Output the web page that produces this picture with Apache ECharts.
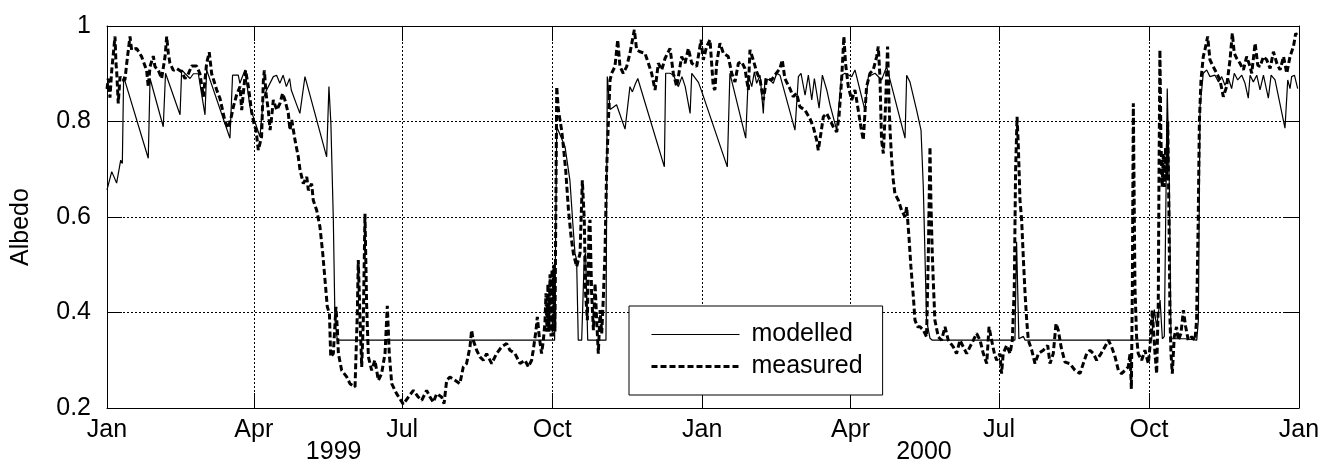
<!DOCTYPE html>
<html>
<head>
<meta charset="utf-8">
<script src="https://cdn.jsdelivr.net/npm/echarts@6/dist/echarts.min.js"></script>
<style>html,body{margin:0;padding:0;background:#fff}#c{width:1325px;height:468px}</style>
</head>
<body>
<div id="c"></div>
<script>
// ---- data (day index from 1 Jan 1999, albedo) ----
const startYear = 1999;
const endYear = 2001;
const monthNames = ['Jan', 'Feb', 'Mar', 'Apr', 'May', 'Jun', 'Jul', 'Aug', 'Sep', 'Oct', 'Nov', 'Dec'];
const quarterMonths = [1, 4, 7, 10];
const yAxisTicks = [0.2, 0.4, 0.6, 0.8, 1];
const yearLabels = ['1999', '2000'];
const yearLabelDays = [139, 501];

const modelled = [
[0,0.657],[2.9,0.695],[5.9,0.671],[8.4,0.719],[9.4,0.712],[10.2,0.894],[25.3,0.723],[26.4,0.89],
[34.5,0.789],[35.9,0.901],[44.8,0.814],[45.8,0.908],[48,0.9],[50.9,0.89],[53,0.9],[56,0.9],
[60.1,0.814],[61.1,0.908],[75.4,0.765],[77,0.897],[80.5,0.897],[81.5,0.88],[84.6,0.908],[87.7,0.83],
[93.8,0.768],[95.9,0.849],[97.9,0.866],[102,0.894],[104,0.897],[106,0.88],[108,0.897],[110,0.873],
[112,0.89],[113,0.866],[116,0.838],[118.3,0.817],[121.4,0.894],[134.7,0.726],[136.1,0.873],[137.3,0.796],
[138.8,0.594],[139.8,0.384],[141.3,0.342],[274.5,0.342],[275.8,0.789],[280.9,0.747],[283.9,0.676],
[285.8,0.58],[287,0.524],[288,0.51],[289,0.342],[291.1,0.342],[292.7,0.517],[293.5,0.524],[294.8,0.342],
[306,0.342],[306.8,0.894],[308.5,0.825],[310.5,0.83],[312.5,0.835],[317.7,0.784],[320.7,0.873],
[322.2,0.862],[323.8,0.877],[325.5,0.89],[341.8,0.705],[342.6,0.901],[345.3,0.901],[347.4,0.897],
[350.4,0.873],[352.6,0.894],[354.6,0.873],[357.6,0.817],[358.6,0.901],[362.7,0.882],[364.8,0.862],
[380.4,0.705],[382,0.901],[391.7,0.765],[393.3,0.897],[395.4,0.873],[397,0.904],[398.4,0.88],
[400.5,0.897],[402.5,0.817],[403.5,0.89],[406.6,0.887],[408.6,0.88],[410.7,0.901],[412.7,0.897],
[421.9,0.782],[424,0.894],[425.6,0.901],[428.1,0.855],[430.1,0.897],[432.2,0.845],[433.8,0.89],
[436.7,0.828],[438.7,0.897],[441.4,0.866],[443.4,0.835],[447.5,0.782],[450.5,0.897],[452.6,0.901],
[456.7,0.894],[458.7,0.908],[464.8,0.824],[466.9,0.894],[471,0.901],[475,0.887],[478.1,0.915],
[489.4,0.765],[490.4,0.897],[492.4,0.883],[496.5,0.824],[499.2,0.782],[500.6,0.663],[501.6,0.524],
[502.6,0.384],[504.7,0.346],[506.1,0.342],[556.8,0.342],[557.8,0.548],[559.2,0.345],[562,0.35],
[563,0.342],[640.6,0.342],[642.3,0.406],[643.7,0.37],[645.8,0.426],[647.2,0.345],[648.4,0.35],
[650.2,0.869],[651.5,0.663],[652.5,0.345],[661.1,0.345],[668.3,0.342],[669.3,0.384],[670.3,0.831],
[672.3,0.901],[674.4,0.908],[676.4,0.894],[679.5,0.897],[681.6,0.883],[683.6,0.894],[685.6,0.876],
[687.7,0.89],[689.7,0.869],[691.3,0.901],[693.4,0.887],[695.9,0.897],[697.9,0.88],[699.9,0.849],
[701,0.897],[703,0.883],[705.1,0.897],[707.1,0.866],[709.2,0.897],[712.2,0.849],[713.9,0.897],
[716.3,0.887],[722.4,0.786],[724.1,0.887],[725.5,0.869],[726.5,0.894],[728.2,0.897],[730.2,0.869]
];

const measured = [
[0,0.868],[0.8,0.89],[1.8,0.85],[2.9,0.907],[4.9,0.978],[5.5,0.922],[5.9,0.907],[6.9,0.838],[8,0.894],
[9,0.887],[11,0.887],[12.1,0.922],[14.1,0.978],[15.1,0.95],[16.1,0.953],[18.2,0.953],[21.2,0.936],
[24.3,0.907],[25.3,0.873],[26.4,0.915],[28.4,0.937],[29.4,0.915],[31.5,0.907],[33.5,0.89],[35.6,0.936],
[36.6,0.978],[37.6,0.943],[38.6,0.922],[40.7,0.907],[42.7,0.911],[45.8,0.904],[47.8,0.89],[49.9,0.9],
[51.9,0.916],[55,0.916],[57,0.9],[59.1,0.852],[61.1,0.922],[62.7,0.945],[64.2,0.9],[67.3,0.866],
[69.3,0.848],[72.4,0.8],[74.4,0.786],[76.5,0.814],[77.5,0.831],[79.5,0.856],[81.6,0.873],[82.6,0.824],
[83.6,0.859],[85,0.907],[86.7,0.873],[88.7,0.82],[90.1,0.796],[91.4,0.782],[92.8,0.74],[94.8,0.768],
[95.9,0.887],[96.5,0.907],[97.5,0.859],[98.9,0.824],[100,0.782],[101,0.81],[102,0.845],[104.1,0.824],
[106.1,0.838],[107.7,0.859],[109.1,0.845],[111.2,0.817],[112.2,0.782],[113.3,0.803],[115.3,0.761],
[117.3,0.726],[118.4,0.698],[120.4,0.67],[122.5,0.684],[123.5,0.656],[125.5,0.67],[126.5,0.635],
[128.6,0.614],[130.6,0.579],[132.3,0.524],[133.7,0.468],[135.1,0.412],[136.4,0.398],[137.2,0.307],
[138.8,0.314],[140.4,0.412],[141.3,0.363],[141.9,0.314],[143.9,0.279],[147,0.265],[149,0.251],
[152.1,0.244],[153.5,0.398],[154.1,0.51],[155.2,0.384],[156.2,0.286],[157.2,0.384],[158.2,0.607],
[159.2,0.419],[160.3,0.307],[162.3,0.279],[164.3,0.3],[166.4,0.258],[168.4,0.272],[170.5,0.314],
[171.9,0.414],[173.1,0.314],[174.6,0.251],[177.6,0.23],[181.7,0.208],[182.7,0.209],[184.8,0.223],
[187.9,0.237],[190.9,0.223],[193,0.216],[196,0.237],[198.1,0.223],[200.1,0.212],[202.2,0.23],
[205.2,0.223],[206.7,0.209],[208.3,0.258],[210.3,0.265],[213.4,0.258],[216.4,0.251],[218.5,0.286],
[220.5,0.293],[222.6,0.328],[223.6,0.363],[224.6,0.342],[226.7,0.321],[228.7,0.307],[230.8,0.3],
[232.8,0.314],[235.9,0.293],[238.9,0.314],[242,0.328],[245.1,0.335],[247.1,0.321],[250.2,0.314],
[253.3,0.293],[256.3,0.3],[258.4,0.286],[260.4,0.3],[261.4,0.321],[263.1,0.363],[263.9,0.391],
[265.1,0.349],[266.5,0.314],[267.6,0.342],[268.6,0.38],[269.2,0.44],[269.8,0.36],[270.4,0.46],
[271,0.36],[271.7,0.48],[272.3,0.35],[272.9,0.49],[273.5,0.35],[274.1,0.5],[274.7,0.36],[275.8,0.873],
[276.8,0.824],[278.8,0.782],[279.9,0.747],[281.3,0.698],[283,0.614],[284.6,0.559],[286,0.524],
[288,0.496],[290.1,0.524],[291.5,0.677],[292.7,0.594],[293.5,0.44],[294.6,0.384],[295.6,0.58],
[296.2,0.594],[297.2,0.44],[298.3,0.363],[299.3,0.461],[300.3,0.384],[301.3,0.314],[302.4,0.405],
[303.4,0.356],[304.4,0.433],[305.4,0.524],[306.4,0.698],[307.5,0.803],[308.5,0.887],[309.5,0.901],
[311.5,0.915],[313.2,0.971],[314.6,0.915],[316.6,0.901],[318.7,0.915],[320.7,0.943],[323.4,0.992],
[324.8,0.95],[326.9,0.946],[329.9,0.943],[332,0.922],[334,0.901],[336.1,0.866],[338.1,0.922],
[340.2,0.908],[342.2,0.932],[345.3,0.953],[347.3,0.901],[349.4,0.873],[352.4,0.936],[354.5,0.922],
[356.5,0.953],[358.6,0.922],[361.6,0.915],[364.3,0.971],[365.7,0.929],[367.7,0.957],[369.8,0.971],
[371.8,0.873],[372.8,0.866],[373.9,0.922],[375.9,0.964],[378,0.943],[381,0.936],[383.1,0.901],
[385.1,0.883],[387.2,0.922],[389.2,0.925],[391.2,0.911],[393.3,0.866],[394.3,0.95],[396.3,0.929],
[398.4,0.904],[400.5,0.887],[402.5,0.845],[404.5,0.89],[407.6,0.887],[409.6,0.897],[412.7,0.911],
[414.1,0.929],[415.7,0.89],[418.8,0.869],[420.8,0.852],[422.9,0.859],[424.9,0.831],[428,0.824],
[431.1,0.806],[433.1,0.789],[435.2,0.761],[436.2,0.74],[437.8,0.775],[439.3,0.81],[441.3,0.817],
[443.4,0.803],[445.4,0.789],[447.5,0.778],[448.9,0.81],[450.5,0.887],[451.9,0.978],[452.9,0.922],
[454.6,0.873],[456.7,0.845],[458.7,0.866],[460.7,0.824],[462.3,0.789],[463.8,0.761],[465.8,0.873],
[467.9,0.901],[469.9,0.908],[472,0.936],[473,0.957],[474,0.894],[475,0.761],[476.1,0.733],
[477.5,0.838],[478.7,0.957],[479.6,0.838],[480.2,0.782],[481.2,0.72],[482.2,0.677],[483.2,0.649],
[485.3,0.635],[487.3,0.614],[489.4,0.6],[490.4,0.621],[491.8,0.559],[493,0.496],[494.5,0.433],
[495.5,0.384],[497.1,0.37],[498.6,0.37],[500.6,0.363],[502.6,0.349],[503.7,0.524],[504.7,0.747],
[505.3,0.628],[506.1,0.524],[506.7,0.468],[507.7,0.384],[509.8,0.349],[511.8,0.342],[513.9,0.37],
[515.9,0.342],[519,0.328],[521,0.314],[523.1,0.342],[525.1,0.328],[527.2,0.314],[529.2,0.328],
[531.3,0.342],[533.3,0.356],[535.4,0.342],[537.4,0.314],[539.5,0.293],[540.9,0.37],[542.5,0.342],
[544.2,0.314],[545.6,0.3],[547.6,0.314],[548.6,0.272],[549.6,0.314],[551.7,0.331],[553.8,0.314],
[555.2,0.342],[556.4,0.454],[557.2,0.698],[558.1,0.81],[558.9,0.747],[559.9,0.635],[560.9,0.594],
[562,0.51],[563,0.44],[564,0.384],[565,0.342],[567.1,0.321],[569.1,0.293],[571.2,0.314],[574.2,0.321],
[576.9,0.331],[578.3,0.293],[580.3,0.314],[582,0.377],[583.4,0.363],[585.1,0.328],[587.5,0.296],
[590.5,0.293],[593.6,0.279],[596.7,0.272],[598.7,0.293],[600.8,0.314],[602.8,0.321],[604.9,0.314],
[606.9,0.3],[609.6,0.314],[612,0.328],[614.1,0.342],[616.1,0.328],[618.2,0.307],[620.2,0.279],
[622.2,0.272],[624.3,0.279],[626.3,0.286],[627.4,0.314],[628.2,0.24],[628.8,0.454],[629.4,0.838],
[630.4,0.454],[631.4,0.349],[632.4,0.314],[634.5,0.3],[636.5,0.321],[638.6,0.293],[639.6,0.328],
[641,0.405],[642.7,0.314],[643.7,0.272],[644.7,0.42],[645.1,0.663],[645.7,0.95],[646.3,0.768],
[647.1,0.663],[647.8,0.733],[648.4,0.663],[649.2,0.747],[649.9,0.677],[650.5,0.8],[651.3,0.594],
[651.9,0.384],[652.5,0.314],[653.3,0.272],[654.5,0.349],[655.9,0.37],[657,0.342],[658.6,0.356],
[660.1,0.405],[661.5,0.37],[663.1,0.342],[665.2,0.349],[667.2,0.342],[668.2,0.384],[669.2,0.594],
[669.9,0.8],[670.9,0.887],[672.3,0.936],[673.3,0.95],[675,0.978],[676.4,0.929],[678.4,0.915],
[680.5,0.901],[682.5,0.887],[684.6,0.852],[686.6,0.873],[688.7,0.929],[690.1,0.985],[691.3,0.943],
[692.8,0.932],[694.8,0.922],[696.9,0.908],[698.9,0.936],[701,0.915],[702,0.901],[704.1,0.964],
[705.7,0.918],[707.1,0.915],[709.2,0.936],[711.2,0.929],[713.3,0.911],[715.3,0.946],[717.4,0.922],
[719.4,0.908],[721.5,0.936],[723.5,0.901],[725.5,0.936],[727.6,0.957],[729,0.985],[730.2,0.978]
];

// ---- day categories (1 Jan 1999 .. 1 Jan 2001) ----
const days = [];
for (let d = new Date(Date.UTC(startYear, 0, 1)); d <= new Date(Date.UTC(endYear, 0, 1)); d = new Date(d.getTime() + 86400000)) {
  days.push(d.toISOString().slice(0, 10));
}
const isQuarter = (i, v) => {
  const s = days[i];
  return s.slice(8) === '01' && quarterMonths.indexOf(+s.slice(5, 7)) >= 0;
};
const monthLabel = v => monthNames[+v.slice(5, 7) - 1];

const FONT = 'Liberation Sans, Arial, sans-serif';
const black = '#000';
const tick = { show: true, inside: true, length: 15, interval: isQuarter, lineStyle: { color: black, width: 1 } };

const chart = echarts.init(document.getElementById('c'), null, { renderer: 'canvas' });
chart.setOption({
  animation: false,
  backgroundColor: '#fff',
  grid: { left: 107, top: 26, right: 26, bottom: 60, containLabel: false, outerBoundsMode: 'none' },
  legend: {
    orient: 'vertical', left: 629, top: 306,
    itemWidth: 88, itemHeight: 14, itemGap: 7,
    padding: [16, 20, 16, 21],
    backgroundColor: '#fff', borderColor: black, borderWidth: 1, borderRadius: 0,
    textStyle: { fontSize: 25, color: black, fontFamily: FONT },
    itemStyle: { opacity: 0, borderWidth: 0 },
    lineStyle: { width: 'inherit', type: 'inherit', opacity: 1 },
    formatter: n => ' ' + n,
    data: ['modelled', 'measured']
  },
  xAxis: [
    {
      type: 'category', data: days, boundaryGap: false, position: 'bottom',
      axisLine: { show: true, onZero: false, lineStyle: { color: black, width: 1 } },
      axisTick: tick,
      axisLabel: { interval: isQuarter, formatter: monthLabel, color: black, fontSize: 25, fontFamily: FONT, margin: 10 },
      splitLine: { show: true, interval: isQuarter, lineStyle: { color: black, width: 1, type: [2, 2] } }
    },
    {
      type: 'category', data: days, boundaryGap: false, position: 'top',
      axisLine: { show: true, onZero: false, lineStyle: { color: black, width: 1 } },
      axisTick: tick, axisLabel: { show: false }, splitLine: { show: false }
    },
    { type: 'value', min: 0, max: days.length - 1, show: false },
    {
      type: 'category', data: days, boundaryGap: false, position: 'bottom', offset: 22,
      axisLine: { show: false }, axisTick: { show: false }, splitLine: { show: false },
      axisLabel: {
        interval: i => yearLabelDays.indexOf(i) >= 0,
        formatter: (v, i) => yearLabels[yearLabelDays.indexOf(i)] || '',
        color: black, fontSize: 25, fontFamily: FONT, margin: 10
      }
    }
  ],
  yAxis: [
    {
      type: 'value', min: yAxisTicks[0], max: yAxisTicks[yAxisTicks.length - 1], interval: 0.2, position: 'left',
      name: 'Albedo', nameLocation: 'middle', nameGap: 73,
      nameTextStyle: { fontSize: 25, color: black, fontFamily: FONT, padding: [0, 20, 0, 0] },
      axisLine: { show: true, lineStyle: { color: black, width: 1 } },
      axisTick: { show: true, inside: true, length: 15, lineStyle: { color: black, width: 1 } },
      axisLabel: { color: black, fontSize: 25, fontFamily: FONT, margin: 16 },
      splitLine: { show: true, lineStyle: { color: black, width: 1, type: [2, 2] } }
    },
    {
      type: 'value', min: yAxisTicks[0], max: yAxisTicks[yAxisTicks.length - 1], interval: 0.2, position: 'right',
      axisLine: { show: true, lineStyle: { color: black, width: 1 } },
      axisTick: { show: true, inside: true, length: 15, lineStyle: { color: black, width: 1 } },
      axisLabel: { show: false }, splitLine: { show: false }
    }
  ],
  series: [
    {
      name: 'modelled', type: 'line', xAxisIndex: 2, yAxisIndex: 0, data: modelled,
      symbol: 'none', showSymbol: false, z: 3,
      itemStyle: { color: black },
      lineStyle: { color: black, width: 1.2, type: 'solid' }
    },
    {
      name: 'measured', type: 'line', xAxisIndex: 2, yAxisIndex: 0, data: measured,
      symbol: 'none', showSymbol: false, z: 2,
      itemStyle: { color: black },
      lineStyle: { color: black, width: 3, type: [6, 3] }
    }
  ]
});
</script>
</body>
</html>
